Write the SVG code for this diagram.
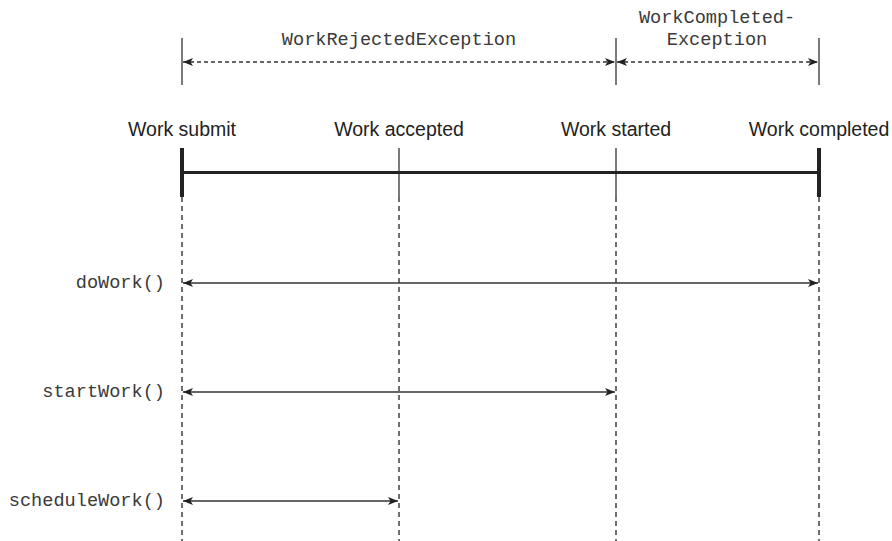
<svg xmlns="http://www.w3.org/2000/svg" width="892" height="541" viewBox="0 0 892 541">
<style>
.mono{font-family:"Liberation Mono","Courier New","DejaVu Sans Mono",monospace;font-size:18.6px;fill:#3a3a3a}
.sans{font-family:"Liberation Sans",Arial,sans-serif;font-size:19.5px;fill:#222;text-anchor:middle}
.thin{stroke:#333;stroke-width:1.3;fill:none}
.thick{stroke:#222;stroke-width:4;fill:none}
.dashv{stroke:#333;stroke-width:1.4;stroke-dasharray:5,4;fill:none}
.dashh{stroke:#333;stroke-width:1.3;stroke-dasharray:4,3;fill:none;marker-start:url(#ah);marker-end:url(#ah)}
.arr{stroke:#333;stroke-width:1.3;fill:none;marker-start:url(#ah);marker-end:url(#ah)}
</style>
<defs>
<marker id="ah" viewBox="0 0 10 8" refX="10" refY="4" markerWidth="10" markerHeight="8" markerUnits="userSpaceOnUse" orient="auto-start-reverse">
<path d="M0,0 L10,4 L0,8 L2.5,4 Z" fill="#222"/>
</marker>
</defs>
<rect width="892" height="541" fill="#fff"/>
<g id="exception-ranges">
<line class="thin" x1="182" y1="38" x2="182" y2="85"/>
<line class="thin" x1="616" y1="38" x2="616" y2="85"/>
<line class="thin" x1="819" y1="38" x2="819" y2="85"/>
<text class="mono" x="399" y="45" text-anchor="middle">WorkRejectedException</text>
<text class="mono" x="717" y="23" text-anchor="middle">WorkCompleted-</text>
<text class="mono" x="717" y="45" text-anchor="middle">Exception</text>
</g>
<g id="work-submit">
<text class="sans" x="182" y="136">Work submit</text>
<line class="thick" x1="182" y1="148" x2="182" y2="197"/>
<line class="dashv" x1="182" y1="197" x2="182" y2="541"/>
</g>
<g id="work-accepted">
<text class="sans" x="399" y="136">Work accepted</text>
<line class="thin" x1="399" y1="148" x2="399" y2="197"/>
<line class="dashv" x1="399" y1="197" x2="399" y2="541"/>
</g>
<g id="work-started">
<text class="sans" x="616" y="136">Work started</text>
<line class="thin" x1="616" y1="148" x2="616" y2="197"/>
<line class="dashv" x1="616" y1="197" x2="616" y2="541"/>
</g>
<g id="work-completed">
<text class="sans" x="819" y="136">Work completed</text>
<line class="thick" x1="819" y1="148" x2="819" y2="197"/>
<line class="dashv" x1="819" y1="197" x2="819" y2="541"/>
</g>
<g id="timeline">
<line stroke="#222" stroke-width="3.2" x1="182" y1="172.5" x2="819" y2="172.5"/>
</g>
<g id="method-labels">
<text class="mono" x="165" y="288" text-anchor="end">doWork()</text>
<text class="mono" x="165" y="397" text-anchor="end">startWork()</text>
<text class="mono" x="165" y="506" text-anchor="end">scheduleWork()</text>
</g>
<g id="connectors">
<line class="dashh" x1="183" y1="62" x2="615" y2="62"/>
<line class="dashh" x1="617" y1="62" x2="818" y2="62"/>
<line class="arr" x1="183" y1="283" x2="818" y2="283"/>
<line class="arr" x1="183" y1="392" x2="615" y2="392"/>
<line class="arr" x1="183" y1="501" x2="398" y2="501"/>
</g>
</svg>
